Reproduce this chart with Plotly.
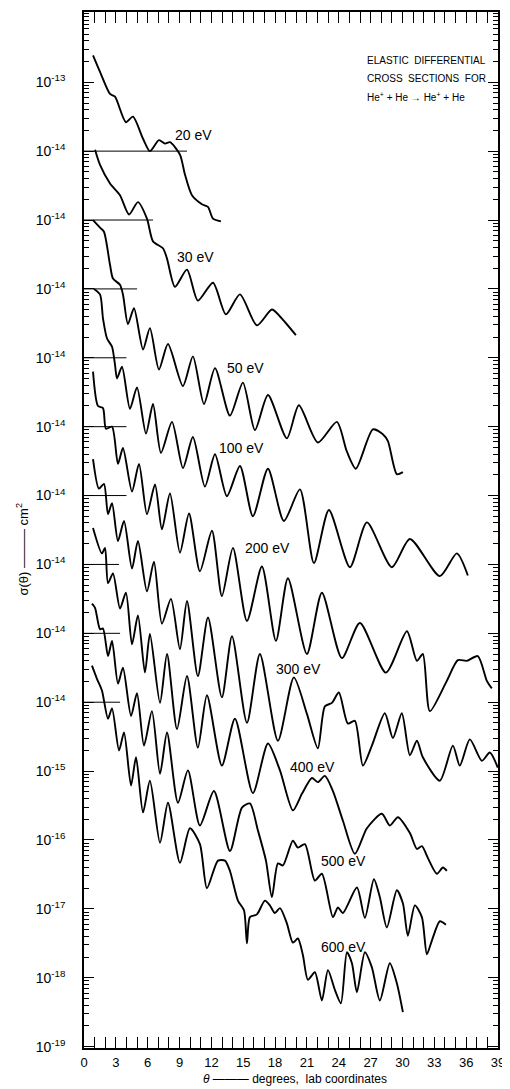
import plotly.graph_objects as go

# ---------------- data ----------------
energies = ["20 eV", "30 eV", "50 eV", "100 eV", "200 eV", "300 eV", "400 eV", "500 eV", "600 eV"]
# each curve is displaced upward by this many decades on the plot
decade_offset = [8, 7, 6, 5, 4, 3, 2, 1, 0]
# extent (deg) of the short 10^-14 reference line drawn for each curve
ref_line_end = [9.7, 6.5, 5.0, 4.0, 4.0, 4.0, 3.3, 3.4, 3.4]

theta_20 = [0.85, 1.51, 2.45, 2.92, 3.95, 4.61, 5.56, 6.21, 7.06, 7.63, 8.10, 9.04, 9.51,
            10.17, 11.11, 11.68, 12.15, 12.90]
logsig_20 = [-12.61, -12.85, -13.17, -13.21, -13.58, -13.50, -13.82, -14.00, -13.84, -13.89,
             -13.87, -14.05, -14.34, -14.64, -14.77, -14.81, -14.98, -15.02]

theta_30 = [1.04, 1.51, 2.45, 3.39, 4.24, 5.08, 5.93, 6.50, 7.44, 7.82, 8.57, 9.70, 10.73,
            12.15, 13.37, 14.69, 16.29, 17.70, 18.46, 19.96]
logsig_30 = [-12.98, -13.20, -13.47, -13.64, -13.92, -13.74, -13.98, -14.31, -14.41, -14.56,
             -14.97, -14.72, -15.17, -14.91, -15.37, -15.08, -15.53, -15.30, -15.40, -15.67]

theta_50 = [0.85, 1.51, 1.88, 2.45, 2.73, 3.39, 3.67, 4.14, 4.71, 5.56, 6.21, 7.06, 7.91, 9.32,
            10.26, 11.30, 12.34, 13.75, 14.97, 16.10, 17.33, 19.11, 20.24, 22.03, 23.82, 24.76,
            25.61, 27.21, 28.15, 28.63, 29.47, 30.04]
logsig_50 = [-13.00, -13.11, -13.17, -13.65, -13.85, -13.94, -14.08, -14.51, -14.28, -14.88,
             -14.57, -15.17, -14.80, -15.41, -14.98, -15.67, -15.15, -15.84, -15.36, -16.05,
             -15.54, -16.17, -15.69, -16.23, -15.93, -16.36, -16.61, -16.04, -16.11, -16.21,
             -16.69, -16.66]

theta_100 = [0.94, 1.51, 1.79, 2.17, 2.64, 2.92, 3.11, 3.58, 4.33, 4.99, 5.84, 6.50, 7.25, 8.29,
             9.32, 10.26, 11.39, 12.34, 13.46, 14.69, 15.91, 17.33, 18.83, 20.34, 21.66, 23.07,
             25.05, 26.65, 29.00, 30.70, 33.52, 35.12, 36.16]
logsig_100 = [-13.00, -13.08, -13.43, -13.72, -13.84, -14.10, -14.30, -14.13, -14.74, -14.43,
              -15.10, -14.67, -15.38, -14.93, -15.60, -15.15, -15.87, -15.40, -16.01, -15.57,
              -16.30, -15.61, -16.37, -15.91, -16.98, -16.21, -17.04, -16.39, -17.04, -16.63,
              -17.17, -16.84, -17.16]

theta_200 = [0.85, 1.32, 1.79, 2.07, 2.64, 3.20, 3.67, 4.52, 5.18, 5.93, 6.69, 7.34, 8.10, 9.04,
             9.89, 10.92, 12.05, 12.99, 14.03, 15.35, 16.76, 18.08, 19.21, 21.00, 22.41, 24.29,
             25.99, 28.44, 30.42, 31.36, 31.92, 32.58, 34.18, 35.22, 36.06, 37.10, 37.95, 38.42]
logsig_200 = [-13.20, -13.70, -13.73, -14.03, -14.00, -14.54, -14.31, -14.94, -14.54, -15.27,
              -14.84, -15.49, -14.97, -15.83, -15.26, -16.10, -15.51, -16.46, -15.76, -16.82,
              -16.03, -17.11, -16.20, -17.30, -16.41, -17.36, -16.85, -17.57, -16.97, -17.40,
              -17.30, -18.13, -17.69, -17.39, -17.40, -17.33, -17.69, -17.80]

theta_300 = [0.85, 1.41, 1.88, 2.26, 2.64, 3.20, 3.77, 4.52, 5.08, 5.93, 6.59, 7.34, 8.19, 9.04,
             9.70, 10.73, 11.68, 12.99, 13.94, 15.35, 16.57, 18.27, 19.77, 21.00, 22.03, 22.69,
             23.35, 24.01, 24.86, 25.52, 26.27, 27.12, 28.34, 29.10, 29.94, 30.70, 31.36, 31.92,
             33.52, 34.75, 35.40, 36.35, 37.48, 38.23, 38.98]
logsig_300 = [-13.47, -13.90, -13.83, -14.27, -14.11, -14.66, -14.37, -15.06, -14.66, -15.39,
              -14.96, -15.86, -15.50, -16.23, -15.53, -16.62, -15.77, -16.93, -16.04, -17.30,
              -16.30, -17.56, -16.64, -17.17, -17.67, -17.06, -17.01, -16.86, -17.31, -17.27,
              -17.92, -17.63, -17.16, -17.52, -17.16, -17.77, -17.56, -17.80, -18.14, -17.63,
              -17.92, -17.54, -17.85, -17.73, -17.95]

theta_400 = [0.85, 1.69, 1.98, 2.26, 2.73, 3.39, 3.95, 4.52, 5.08, 5.74, 6.21, 7.16, 7.82, 8.76,
             9.70, 10.73, 11.58, 12.99, 14.22, 15.91, 17.33, 18.46, 19.68, 20.53, 21.47, 22.03,
             22.69, 23.45, 24.39, 25.52, 26.65, 28.06, 28.81, 29.57, 30.70, 31.36, 31.83, 32.39,
             33.24, 33.81, 34.18]
logsig_400 = [-13.47, -13.84, -13.76, -14.27, -14.13, -14.64, -14.41, -15.16, -14.74, -15.57,
              -15.01, -16.01, -15.30, -16.39, -15.62, -16.66, -15.90, -16.92, -16.24, -17.32,
              -16.60, -16.99, -17.57, -17.33, -17.10, -17.16, -17.07, -17.29, -17.72, -18.20,
              -17.83, -17.62, -17.79, -17.67, -17.90, -18.13, -18.09, -18.26, -18.49, -18.40,
              -18.45]

theta_500 = [0.75, 1.04, 1.51, 1.79, 2.26, 2.64, 3.20, 3.67, 4.43, 4.99, 5.65, 6.40, 7.16, 7.82,
             8.85, 9.79, 10.92, 12.24, 13.75, 14.88, 15.63, 16.38, 17.14, 17.70, 18.27, 18.74,
             19.68, 20.15, 20.81, 21.75, 22.41, 23.45, 23.92, 24.39, 25.71, 26.46, 27.31, 27.87,
             28.53, 29.47, 30.04, 30.51, 31.17, 31.83, 32.30, 32.77, 33.52, 34.09]
logsig_500 = [-13.57, -13.63, -13.94, -13.93, -14.33, -14.11, -14.73, -14.50, -15.20, -14.87,
              -15.63, -15.13, -16.04, -15.44, -16.46, -15.99, -16.79, -16.29, -17.16, -16.53,
              -16.47, -16.86, -17.30, -17.83, -17.34, -17.37, -17.01, -17.11, -17.06, -17.59,
              -17.49, -18.12, -17.98, -18.06, -17.69, -18.13, -17.57, -17.83, -18.27, -17.73,
              -17.92, -18.39, -17.95, -18.12, -18.66, -18.46, -18.18, -18.23]

theta_600 = [0.75, 1.22, 1.69, 2.26, 2.64, 3.30, 3.77, 4.43, 4.90, 5.56, 6.21, 7.16, 7.91, 9.04,
             9.98, 10.92, 11.58, 12.62, 13.28, 13.75, 14.50, 15.07, 15.35, 15.63, 16.29, 17.04,
             17.51, 17.98, 18.46, 19.11, 19.68, 20.15, 20.62, 21.09, 21.75, 22.41, 22.98, 23.64,
             24.20, 24.77, 25.24, 25.71, 26.46, 27.12, 27.87, 28.81, 29.47, 30.04]
logsig_600 = [-13.47, -13.66, -13.83, -14.24, -14.09, -14.70, -14.44, -15.21, -14.80, -15.60,
              -15.14, -16.04, -15.46, -16.33, -15.83, -16.06, -16.70, -16.30, -16.30, -16.45,
              -16.88, -17.02, -17.50, -17.12, -17.08, -16.88, -16.95, -17.06, -16.99, -17.21,
              -17.49, -17.43, -17.67, -18.03, -17.92, -18.33, -17.89, -18.18, -18.37, -17.63,
              -17.79, -18.21, -17.63, -17.85, -18.33, -17.79, -18.08, -18.50]

thetas = [theta_20, theta_30, theta_50, theta_100, theta_200, theta_300, theta_400, theta_500, theta_600]
logsigs = [logsig_20, logsig_30, logsig_50, logsig_100, logsig_200, logsig_300, logsig_400,
           logsig_500, logsig_600]

# axis ticks
y_tick_exp = list(range(-19, -4))
y_tick_text = ["10<sup>-19</sup>", "10<sup>-18</sup>", "10<sup>-17</sup>", "10<sup>-16</sup>",
               "10<sup>-15</sup>", "10<sup>-14</sup>", "10<sup>-14</sup>", "10<sup>-14</sup>",
               "10<sup>-14</sup>", "10<sup>-14</sup>", "10<sup>-14</sup>", "10<sup>-14</sup>",
               "10<sup>-14</sup>", "10<sup>-14</sup>", "10<sup>-13</sup>"]

# label placement for each energy (theta, log10 of plotted value)
label_pos = [(10.36, -5.76), (10.46, -7.53), (15.26, -9.15), (14.88, -10.31), (17.24, -11.76),
             (20.16, -13.52), (21.57, -14.94), (24.40, -16.30), (24.40, -17.55)]

title_lines = ["ELASTIC  DIFFERENTIAL", "CROSS  SECTIONS  FOR",
               "He<sup>+</sup> + He \u2192 He<sup>+</sup> + He"]

FONT = "Liberation Sans, Arial, sans-serif"

fig = go.Figure()

for i, name in enumerate(energies):
    off = decade_offset[i]
    ref_y = 1e-14 * 10 ** off
    fig.add_trace(go.Scatter(x=[0, ref_line_end[i]], y=[ref_y, ref_y], mode="lines",
                             line=dict(color="black", width=1), hoverinfo="skip",
                             showlegend=False))
    fig.add_trace(go.Scatter(x=thetas[i], y=[10 ** (v + off) for v in logsigs[i]],
                             mode="lines", name=name,
                             line=dict(color="black", width=1.9, shape="spline", smoothing=0.7),
                             showlegend=False))
    fig.add_annotation(x=label_pos[i][0], y=label_pos[i][1], text=name, showarrow=False,
                       font=dict(size=14, color="black", family=FONT),
                       xanchor="center", yanchor="middle")

# title block (three lines, left aligned)
for j, line in enumerate(title_lines):
    fig.add_annotation(xref="paper", yref="paper", x=0.679, y=0.953 - j * 0.0173,
                       xanchor="left", yanchor="middle", align="left", showarrow=False,
                       text=line, font=dict(size=10, color="black", family=FONT))

fig.add_annotation(xref="paper", yref="paper", x=0.51, y=-0.030, xanchor="center",
                   yanchor="middle", showarrow=False,
                   text="<i>\u03b8</i> \u2014\u2014\u2014 degrees,  lab coordinates",
                   font=dict(size=12, color="black", family=FONT))

fig.add_annotation(xref="paper", yref="paper", x=-0.150, y=0.482, xanchor="center",
                   yanchor="middle", showarrow=False, textangle=-90,
                   text="\u03c3(\u03b8) \u2014\u2014\u2014 cm<sup>2</sup>",
                   font=dict(size=13, color="black", family=FONT))

# the page shows the figure with an 8 px body margin, so the figure is
# sized to the remaining viewport and its margins shifted accordingly
fig.update_layout(
    width=502, height=1081,
    margin=dict(l=76, r=12, t=2, b=41),
    paper_bgcolor="white", plot_bgcolor="white",
    font=dict(family=FONT, color="black", size=14),
    xaxis=dict(range=[0, 39], tickmode="linear", tick0=0, dtick=3,
               ticks="inside", ticklen=11, tickwidth=1, tickcolor="black",
               showline=True, linecolor="black", linewidth=1.5, mirror="ticks",
               showgrid=False, zeroline=False, tickfont=dict(size=13),
               ticklabelstandoff=2,
               minor=dict(ticks="inside", ticklen=11, tickwidth=1, tickcolor="black",
                          dtick=1, tick0=0, showgrid=False)),
    yaxis=dict(type="log", range=[-19.02, -3.98], tickmode="array",
               tickvals=[10.0 ** e for e in y_tick_exp], ticktext=y_tick_text,
               ticks="inside", ticklen=10, tickwidth=1, tickcolor="black",
               showline=True, linecolor="black", linewidth=1.5, mirror="ticks",
               showgrid=False, zeroline=False, tickfont=dict(size=14),
               ticklabelstandoff=14,
               minor=dict(ticks="inside", ticklen=5, tickwidth=1, tickcolor="black",
                          dtick="D1", showgrid=False)),
)

fig.write_html("out.html")
